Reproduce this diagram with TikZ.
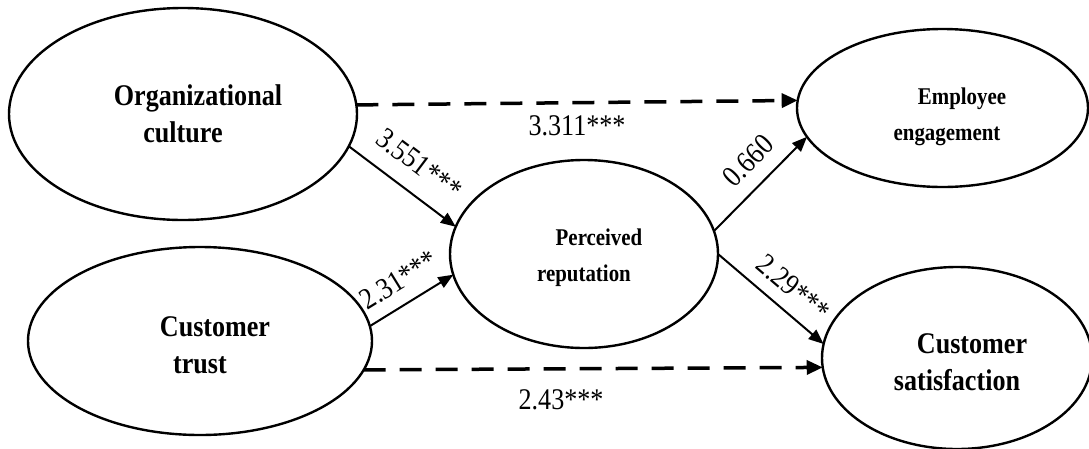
\documentclass[tikz,border=0pt]{standalone}
\usepackage{fontspec}
\setmainfont{Liberation Serif}[FakeStretch=0.87]
\usetikzlibrary{arrows.meta,shapes.geometric}
\newcommand{\toplift}[1]{\rule{0pt}{#1}}
\begin{document}
\begin{tikzpicture}[x=1pt,y=-1pt,
  latent/.style={ellipse, draw, line width=2.4pt, inner sep=0pt, outer sep=0pt, align=center,
    font=\bfseries\fontsize{30}{37}\selectfont},
  latentsmall/.style={latent, font=\bfseries\fontsize{24}{36}\selectfont},
  solidarrow/.style={line width=2pt, -{Triangle[length=15pt,width=12pt]}},
  dasharrow/.style={line width=3.5pt, dash pattern=on 22pt off 14pt, -{Triangle[length=16pt,width=14pt]}},
  coef/.style={font=\fontsize{30}{34}\selectfont, inner sep=1pt}
]
\useasboundingbox (0,0) rectangle (1089,448);

\node[latent, minimum width=348pt, minimum height=212pt] (oc) at (183,114) {\hspace*{30pt}Organizational\\culture};
\node[latent, minimum width=344pt, minimum height=188pt] (ct) at (200,341) {\toplift{28pt}\hspace*{30pt}Customer\\trust};
\node[latentsmall, minimum width=268pt, minimum height=188pt] (pr) at (584,254) {\toplift{24pt}\hspace*{30pt}Perceived\\reputation};
\node[latentsmall, minimum width=291pt, minimum height=158pt] (ee) at (942.5,108) {\toplift{34pt}\hspace*{39pt}Employee\\\hspace*{9pt}engagement};
\node[latent, minimum width=270pt, minimum height=182pt] (cs) at (957,358) {\toplift{28pt}\hspace*{30pt}Customer\\satisfaction};

\draw[dasharrow] (oc.3) -- node[coef, below=10pt] (l1) {3.311***} (ee.177);
\draw[solidarrow] (oc.-11) -- node[coef, sloped, above=16pt] (l2) {3.551***} (pr.168);
\draw[solidarrow] (ct.5) -- node[coef, sloped, above=12pt] (l3) {2.31***} (pr.-171);
\draw[dasharrow] (ct.-10) -- node[coef, pos=0.43, below=18pt] (l4) {2.43***} (cs.184);
\draw[solidarrow] (pr.10) -- node[coef, sloped, pos=0.56, above=13pt] (l5) {0.660} (ee.-168);
\draw[solidarrow] (pr.0) -- node[coef, sloped, pos=0.57, above=11pt] (l6) {2.29***} (cs.174);
\end{tikzpicture}
\end{document}
